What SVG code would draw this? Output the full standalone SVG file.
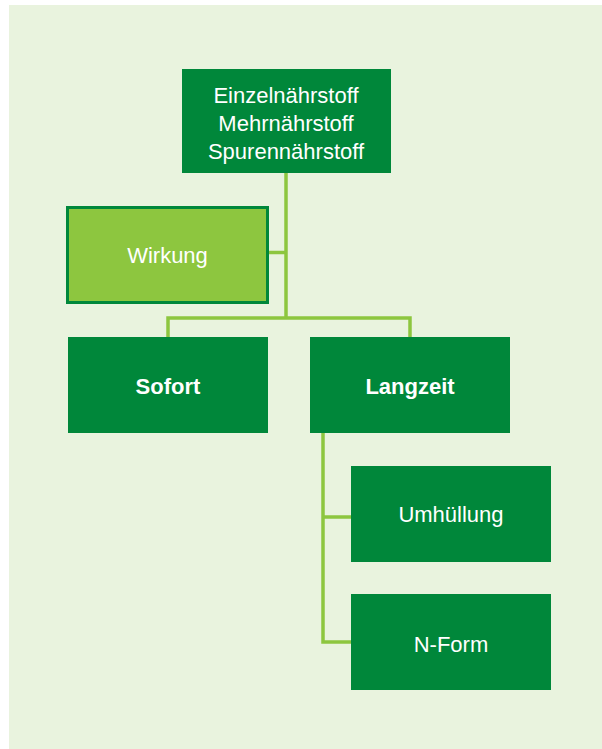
<svg xmlns="http://www.w3.org/2000/svg" width="602" height="749" viewBox="0 0 602 749">
<style>
.box{fill:#00873a}
.sub{fill:#8dc63f;stroke:#00873a;stroke-width:3}
.t{font-family:"Liberation Sans",Arial,sans-serif;font-size:22px;fill:#ffffff;text-anchor:middle}
.b{font-weight:bold}
.c{fill:none;stroke:#8dc63f;stroke-width:3.5;stroke-linejoin:miter;stroke-linecap:butt}
</style>
<rect x="0" y="0" width="602" height="749" fill="#ffffff"/>
<rect x="9" y="5" width="593" height="744" fill="#e9f3de"/>
<g id="connectors">
<path class="c" d="M286,173 V318"/>
<path class="c" d="M269,252.5 H286"/>
<path class="c" d="M168,337 V318 H410 V337"/>
<path class="c" d="M323,433 V642 H351"/>
<path class="c" d="M323,517 H351"/>
</g>
<g id="n-top">
<rect class="box" x="182" y="69" width="209" height="104"/>
<text class="t" x="286" y="103">Einzelnährstoff</text>
<text class="t" x="286" y="131">Mehrnährstoff</text>
<text class="t" x="286" y="159">Spurennährstoff</text>
</g>
<g id="n-wirkung">
<rect class="sub" x="67.5" y="207.5" width="200" height="95"/>
<text class="t" x="167.5" y="263">Wirkung</text>
</g>
<g id="n-sofort">
<rect class="box" x="68" y="337" width="200" height="96"/>
<text class="t b" x="168" y="394">Sofort</text>
</g>
<g id="n-langzeit">
<rect class="box" x="310" y="337" width="200" height="96"/>
<text class="t b" x="410" y="394">Langzeit</text>
</g>
<g id="n-umhuellung">
<rect class="box" x="351" y="466" width="200" height="96"/>
<text class="t" x="451" y="522">Umhüllung</text>
</g>
<g id="n-nform">
<rect class="box" x="351" y="594" width="200" height="96"/>
<text class="t" x="451" y="652">N-Form</text>
</g>
</svg>
